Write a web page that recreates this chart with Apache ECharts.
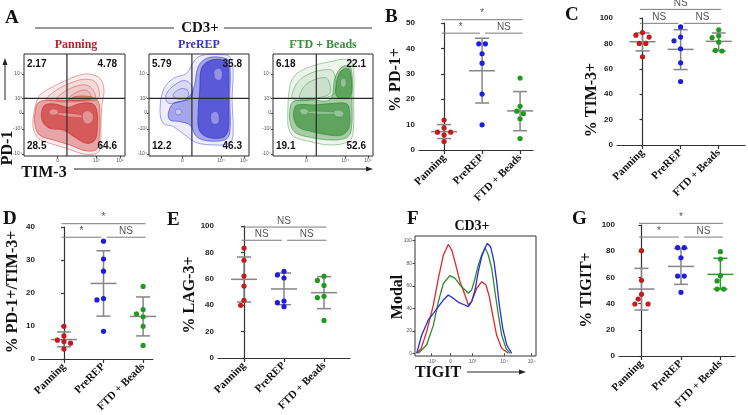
<!DOCTYPE html>
<html><head><meta charset="utf-8">
<script src="https://cdn.jsdelivr.net/npm/echarts@6/dist/echarts.min.js"></script>
<style>html,body{margin:0;padding:0;background:#fff}#c{width:748px;height:415px}</style>
</head><body><div id="c"></div><script>
// ---------------- DATA ----------------
const categories = ['Panning', 'PreREP', 'FTD + Beads'];

// B: % PD-1+
const pd1Points = [[11.8, 8.7, 7.0, 7.0, 5.9, 3.3], [41.8, 41.8, 37.9, 34.2, 22.0, 9.9], [28.3, 17.2, 15.3, 14.3, 12.3, 4.5]];
const pd1Mean = [7.2, 31.2, 15.4];
const pd1Low = [4.5, 18.5, 7.6];
const pd1High = [10.0, 44.0, 23.0];
const pd1Brackets = [[0, 2, '*', 51.3], [0, 1, '*', 46.0], [1, 2, 'NS', 46.0]];

// C: % TIM-3+
const tim3Points = [[88.5, 86.5, 85.0, 80.0, 80.0, 69.4], [93.0, 85.0, 82.0, 75.8, 64.7, 50.0], [90.7, 86.0, 84.5, 81.0, 74.5, 74.0]];
const tim3Mean = [81.3, 75.3, 81.6];
const tim3Low = [74.1, 59.4, 74.1];
const tim3High = [88.2, 90.8, 88.2];
const tim3Brackets = [[0, 2, 'NS', 106.8], [0, 1, 'NS', 95.8], [1, 2, 'NS', 95.8]];

// D: % PD-1+/TIM-3+
const dpPoints = [[9.9, 7.0, 5.7, 5.3, 4.8, 3.0], [35.7, 30.3, 26.6, 18.3, 17.9, 8.4], [22.0, 15.0, 13.7, 12.8, 9.9, 4.1]];
const dpMean = [5.9, 22.9, 12.9];
const dpLow = [3.7, 13.0, 7.0];
const dpHigh = [8.2, 32.8, 18.8];
const dpBrackets = [[0, 2, '*', 41.0], [0, 1, '*', 36.9], [1, 2, 'NS', 36.9]];

// E: % LAG-3+
const lag3Points = [[83.3, 74.0, 62.1, 54.5, 43.7, 39.9], [65.7, 62.9, 60.6, 43.2, 41.9, 38.9], [62.0, 58.8, 55.0, 46.7, 45.7, 28.5]];
const lag3Mean = [59.6, 52.3, 49.5];
const lag3Low = [42.4, 40.4, 37.4];
const lag3High = [76.5, 64.4, 61.6];
const lag3Brackets = [[0, 2, 'NS', 99.2], [0, 1, 'NS', 89.2], [1, 2, 'NS', 89.2]];

// G: % TIGIT+
const tigitPoints = [[80.4, 57.8, 47.1, 43.5, 39.7, 39.7], [82.7, 82.7, 75.0, 61.0, 61.0, 48.6], [79.6, 74.0, 61.3, 57.3, 51.1, 51.1]];
const tigitMean = [51.1, 68.4, 62.3];
const tigitLow = [35.1, 54.7, 51.1];
const tigitHigh = [66.9, 82.2, 74.6];
const tigitBrackets = [[0, 2, '*', 101.3], [0, 1, '*', 90.8], [1, 2, 'NS', 90.8]];

// F: TIGIT histogram (x: display scale 0-100, y: % of max)
const histPanning = [[1.4,0],[5,4],[9.6,19],[15.2,43],[19.3,66.5],[23.4,87],[27.5,96.7],[30.3,92],[33.1,81],[37.2,63.6],[41.3,51.8],[44.1,42.9],[46.8,45.9],[51.0,57.7],[55.1,63.6],[58.7,60.7],[61.4,50.3],[64.2,34],[67.5,16],[71.6,4.4],[77.1,0]];
const histFTD = [[2.8,0],[9.6,7.4],[15.2,25],[19.3,45.9],[23.4,62],[28.9,69],[33.1,66.6],[37.2,60.7],[41.3,56.2],[44.1,53.3],[46.8,56.2],[49.6,66.6],[52.3,78.4],[55.1,87.3],[57.9,93.8],[60.6,87.3],[63.4,75.4],[66.1,54.7],[68.9,34],[71.6,16.3],[75.2,4.4],[78.5,0]];
const histPreREP = [[1.4,0],[5.5,16],[11.0,29.6],[15.2,35.5],[19.3,41.4],[23.4,47.3],[27.5,51.8],[31.7,48.8],[35.8,45.3],[41.3,42.9],[44.1,41.4],[46.8,45.9],[49.6,56.2],[52.3,72.5],[55.1,85.8],[57.9,93.8],[59.8,97.6],[62.5,94.7],[65.3,81.4],[67.5,63.6],[69.7,42.9],[72.5,22.2],[75.8,7.4],[79.9,0]];
const histTickValues = [13.8, 29.5, 47.7, 73.6, 96.4];
const histTickLabels = ['-10³', '0', '10³', '10⁴', '10⁵'];
const histYTicks = [0, 20, 40, 60, 80, 100];

// A: flow contour plots (u: TIM-3 display 0-100, v: PD-1 display 0-100), levels outer -> core
const contourPanning = [
  [[[9.2,38.6],[11.9,51.6],[15.8,59.8],[25.7,66.3],[38.9,72.9],[52.1,78.4],[63.7,80.4],[75.2,76.1],[79.2,64.7],[76.9,48.4],[76.2,25.5],[75.2,5.9],[70.3,2.0],[58.7,2.0],[42.2,7.5],[25.7,12.4],[14.2,17.3],[9.2,27.1]],
   [[22.4,54.9],[32.3,64.7],[45.5,71.2],[58.7,75.2],[70.3,72.9],[74.6,61.4],[71.9,54.9]],
   [[32,55.5],[40,63],[52,68.5],[62,69.5],[68.5,64.5],[70,56.5]],
   [[44,55.5],[52,62.5],[61,64.5],[66,60],[65,55.5]]],
  [[[10.9,41.8],[14.2,52.3],[25.7,54.9],[42.2,54.2],[50.5,58.2],[65.3,58.2],[73.6,53.3],[75.2,38.6],[74.6,19.0],[71.9,6.5],[60.4,5.2],[45.5,10.8],[29.0,15.7],[15.2,20.6],[10.9,30.4]]],
  [[[17.5,43.5],[20.8,50.0],[30.7,51.0],[43.9,47.7],[53.8,51.0],[67.0,51.6],[71.9,45.1],[72.6,28.8],[70.3,15.7],[62.0,12.4],[50.5,18.3],[38.9,25.5],[25.7,27.1],[18.5,33.7]]],
  [[[25.1,43.9],[28.4,46.2],[33.0,44.8],[34.0,41.5],[29.0,40.2],[25.7,41.2]],
   [[58.1,41.8],[62.7,44.4],[68.0,41.2],[68.0,34.6],[62.7,31.4],[58.7,34.6]],
   [[34.0,42.5],[56.8,40.2],[56.8,37.6],[34.0,40.2]]]
];
const contourPreREP = [
  [[[11.0,43.5],[14.3,64.7],[24.3,76.1],[37.5,81.0],[45.8,94.1],[54.2,99.0],[70.8,99.5],[80.7,97.4],[84.1,84.3],[83.1,54.9],[84.1,22.2],[80.7,12.4],[64.1,10.8],[47.5,13.1],[35.9,20.6],[24.3,28.8],[14.3,32.0]],
   [[17,60],[26,70],[36,74],[43,68],[42,57],[30,53],[19,52]],
   [[24,60],[32,66],[39,64],[38,57],[28,56]]],
  [[[19.3,41.8],[24.3,51.6],[35.9,54.9],[44.2,64.7],[49.2,87.6],[57.5,95.8],[72.4,96.7],[80.1,92.5],[80.7,54.9],[80.7,22.2],[75.7,15.7],[57.5,15.0],[47.5,19.0],[40.9,30.4],[30.9,33.7],[20.9,35.3]]],
  [[[50.8,64.7],[52.5,85.9],[60.8,93.5],[74.1,94.1],[79.1,89.2],[79.4,54.9],[79.1,25.5],[74.1,18.3],[59.1,18.3],[50.2,25.5],[49.2,45.1]]],
  [[[65.8,84.3],[70.8,85.9],[73.4,81.0],[71.4,74.5],[66.8,75.2],[65.1,79.4]],
   [[62.5,41.8],[67.4,43.5],[70.1,38.6],[69.1,32.0],[64.1,31.4],[61.8,35.9]],
   [[26.9,45.1],[30.9,45.8],[32.6,42.5],[29.2,40.2],[26.6,41.8]]]
];
const contourFTD = [
  [[[14.7,38.6],[16.7,68.0],[22.3,79.4],[37.3,87.6],[57.3,92.5],[74.0,94.8],[80.0,89.2],[80.7,54.9],[80.0,22.2],[75.7,14.1],[57.3,10.8],[37.3,14.1],[20.7,19.0],[15.7,27.1]],
   [[20,56],[23,70],[33,79],[48,84],[60,83],[62,62],[45,56]],
   [[27,56],[31,68],[42,75],[54,76],[57,62],[45,57]]],
  [[[16.7,43.5],[20.0,53.3],[37.3,54.9],[57.3,55.6],[62.3,77.8],[70.7,88.2],[78.0,85.9],[79.0,54.9],[78.0,23.9],[72.3,17.3],[57.3,15.7],[37.3,18.3],[22.3,22.9],[17.3,32.0]]],
  [[[20.7,43.5],[24.0,50.0],[40.7,50.0],[60.7,51.6],[74.0,51.0],[76.7,41.8],[75.7,27.1],[69.0,20.6],[55.7,20.6],[39.0,23.9],[25.7,28.1],[21.3,35.3]],
   [[64,74.5],[69,84.3],[76.7,84.3],[77.3,58.2],[64,58.2]]],
  [[[26.7,45.1],[31.3,46.4],[35.7,44.4],[34.0,41.2],[29.0,40.8]],
   [[60.7,43.5],[65.7,45.1],[70.7,42.5],[69.0,38.6],[62.3,39.2]],
   [[68.0,74.5],[71.3,76.1],[73.3,71.2],[70.7,67.3],[68.0,69.6]],
   [[35.7,43.8],[60.7,43.1],[60.7,41.2],[35.7,41.8]]]
];
const quadrantPanning = ['2.17', '4.78', '28.5', '64.6'];
const quadrantPreREP = ['5.79', '35.8', '12.2', '46.3'];
const quadrantFTD = ['6.18', '22.1', '19.1', '52.6'];
const gateTIM3 = [42.5, 42.9, 43.3];
const gatePD1 = 56.5;
const flowYTicks = [80.4, 56.2, 42.2, 26.5, 2];
const flowYLabels = ['10⁴', '10³', '0', '-10³', '-10⁴'];
const flowXTicks = [33.4, 72, 95];
const flowXLabels = ['0', '10⁴', '10⁵'];

// ---------------- STYLE ----------------
const pointColors = ['#c41c1c', '#1c1ce4', '#1f9a1f'];
const SERIF = 'Liberation Serif, Times New Roman, serif';
const SANS = 'Liberation Sans, Arial, sans-serif';
const AXIS_COLOR = '#333';
const BAR_GREY = '#858585';

const grids = [], xAxes = [], yAxes = [], series = [];

function swarm(pts, d, minDist) {
  const order = pts.map((p, i) => i).sort((a, b) => pts[a].y - pts[b].y);
  const rows = [];
  order.forEach(i => {
    const last = rows[rows.length - 1];
    if (last && Math.abs(pts[i].y - pts[last[0]].y) < 1.2) last.push(i); else rows.push([i]);
  });
  const placed = [], off = new Array(pts.length).fill(0);
  rows.forEach(row => {
    const n = row.length;
    const cands = n === 1 ? [[0], [-d / 2], [d / 2], [-d], [d], [-1.5 * d], [1.5 * d]]
      : [1, 2, 3].map(k => row.map((_, j) => (j - (n - 1) / 2) * d * k));
    for (let c = 0; c < cands.length; c++) {
      const cand = cands[c];
      const ok = row.every((idx, j) => placed.every(p => Math.hypot(p.x - (pts[idx].x + cand[j]), p.y - pts[idx].y) >= minDist));
      if (ok || c === cands.length - 1) {
        row.forEach((idx, j) => { off[idx] = cand[j]; placed.push({ x: pts[idx].x + cand[j], y: pts[idx].y }); });
        break;
      }
    }
  });
  return off;
}

function scatterPanel(cfg) {
  const k = grids.length;
  grids.push({ left: cfg.left, top: cfg.top, width: cfg.width, height: cfg.height, outerBoundsMode: 'none', containLabel: false });
  xAxes.push({
    gridIndex: k, type: 'value', min: cfg.xmin, max: cfg.xmax,
    axisLine: { show: true, onZero: false, lineStyle: { color: AXIS_COLOR, width: 1.2 } },
    axisTick: { show: true, customValues: [0, 1, 2], length: 4, lineStyle: { color: AXIS_COLOR, width: 1.2 } },
    axisLabel: { customValues: [0, 1, 2], rotate: 45, margin: 6, formatter: v => categories[Math.round(v)],
      fontFamily: SERIF, fontWeight: 'bold', fontSize: 11, color: '#111' },
    splitLine: { show: false }
  });
  yAxes.push({
    gridIndex: k, type: 'value', min: 0, max: cfg.ymax, interval: cfg.interval,
    axisLine: { show: true, lineStyle: { color: AXIS_COLOR, width: 1.2 } },
    axisTick: { show: true, length: 3, lineStyle: { color: AXIS_COLOR, width: 1.2 } },
    axisLabel: { fontFamily: SANS, fontWeight: 'bold', fontSize: 8, color: '#222', margin: 4 },
    splitLine: { show: false }
  });
  const barColors = cfg.barColors || [BAR_GREY, BAR_GREY, BAR_GREY];
  series.push({
    type: 'custom', xAxisIndex: k, yAxisIndex: k, clip: false, z: 3,
    data: cfg.mean.map((m, i) => [i, m, cfg.low[i], cfg.high[i]]),
    renderItem: (params, api) => {
      const i = api.value(0);
      const pm = api.coord([i, api.value(1)]), pl = api.coord([i, api.value(2)]), ph = api.coord([i, api.value(3)]);
      const st = { stroke: barColors[i], lineWidth: 1.5 };
      return { type: 'group', children: [
        { type: 'line', shape: { x1: pm[0] - 13, y1: pm[1], x2: pm[0] + 13, y2: pm[1] }, style: st },
        { type: 'line', shape: { x1: pl[0], y1: pl[1], x2: ph[0], y2: ph[1] }, style: st },
        { type: 'line', shape: { x1: pl[0] - 7, y1: pl[1], x2: pl[0] + 7, y2: pl[1] }, style: st },
        { type: 'line', shape: { x1: ph[0] - 7, y1: ph[1], x2: ph[0] + 7, y2: ph[1] }, style: st }
      ] };
    }
  });
  series.push({
    type: 'custom', xAxisIndex: k, yAxisIndex: k, clip: false, z: 4,
    data: cfg.points.map((vals, i) => [i, vals[0]]),
    renderItem: (params, api) => {
      const i = api.value(0);
      const pts = cfg.points[i].map(v => { const p = api.coord([i, v]); return { x: p[0], y: p[1] }; });
      const off = swarm(pts, 6.6, 5.6);
      return { type: 'group', children: pts.map((p, j) => ({
        type: 'circle', shape: { cx: p.x + off[j], cy: p.y, r: 2.6 }, style: { fill: pointColors[i] }
      })) };
    }
  });
  series.push({
    type: 'custom', xAxisIndex: k, yAxisIndex: k, clip: false, z: 2,
    data: cfg.brackets.map(b => [b[0], b[1], b[3]]),
    renderItem: (params, api) => {
      const b = cfg.brackets[params.dataIndex];
      const a = api.coord([api.value(0), api.value(2)]), c = api.coord([api.value(1), api.value(2)]);
      const x1 = a[0] + (b[0] === 0 ? -2.5 : 3), x2 = c[0] + (b[1] === 2 ? 2.5 : -2.2);
      return { type: 'group', children: [
        { type: 'line', shape: { x1, y1: a[1], x2, y2: a[1] }, style: { stroke: '#7a7a7a', lineWidth: 1 } },
        { type: 'text', x: (x1 + x2) / 2, y: a[1] - 1,
          style: { text: b[2], font: '10px ' + SANS, fill: '#555', align: 'center', verticalAlign: 'bottom', textAlign: 'center', textVerticalAlign: 'bottom' } }
      ] };
    }
  });
}

scatterPanel({ left: 419, top: 23, width: 114, height: 127, xmin: -0.66, xmax: 2.34, ymax: 50, interval: 10,
  points: pd1Points, mean: pd1Mean, low: pd1Low, high: pd1High, brackets: pd1Brackets });
scatterPanel({ left: 617, top: 18, width: 128, height: 127, xmin: -0.67, xmax: 2.69, ymax: 100, interval: 20,
  points: tim3Points, mean: tim3Mean, low: tim3Low, high: tim3High, brackets: tim3Brackets });
scatterPanel({ left: 39, top: 227, width: 114, height: 132, xmin: -0.63, xmax: 2.25, ymax: 40, interval: 10,
  points: dpPoints, mean: dpMean, low: dpLow, high: dpHigh, brackets: dpBrackets });
scatterPanel({ left: 218, top: 226, width: 132, height: 132, xmin: -0.65, xmax: 2.65, ymax: 100, interval: 20,
  points: lag3Points, mean: lag3Mean, low: lag3Low, high: lag3High, brackets: lag3Brackets });
scatterPanel({ left: 619, top: 225, width: 116, height: 131, xmin: -0.57, xmax: 2.37, ymax: 100, interval: 20,
  points: tigitPoints, mean: tigitMean, low: tigitLow, high: tigitHigh, brackets: tigitBrackets,
  barColors: [BAR_GREY, BAR_GREY, '#2f9a2f'] });

// ---- F histogram ----
(function () {
  const k = grids.length;
  grids.push({ left: 415, top: 236, width: 121, height: 120, show: true, borderColor: '#333', borderWidth: 1, outerBoundsMode: 'none' });
  const tiny = { fontFamily: SANS, fontSize: 5, color: '#555', margin: 3 };
  xAxes.push({ gridIndex: k, type: 'value', min: 0, max: 100,
    axisLine: { show: false }, splitLine: { show: false },
    axisTick: { show: true, customValues: histTickValues, length: 2.5, lineStyle: { color: '#444' } },
    axisLabel: Object.assign({ customValues: histTickValues, formatter: v => histTickLabels[histTickValues.indexOf(v)] }, tiny) });
  yAxes.push({ gridIndex: k, type: 'value', min: -2.4, max: 104.2,
    axisLine: { show: false }, splitLine: { show: false },
    axisTick: { show: true, customValues: histYTicks, length: 2.5, lineStyle: { color: '#444' } },
    axisLabel: Object.assign({ customValues: histYTicks }, tiny) });
  [[histPanning, '#e02828'], [histFTD, '#2f8a2f'], [histPreREP, '#2a2ae0']].forEach(([d, col]) => {
    series.push({ type: 'line', xAxisIndex: k, yAxisIndex: k, data: d, showSymbol: false, symbol: 'none',
      lineStyle: { color: col, width: 1.3 }, itemStyle: { color: col }, z: 3, silent: true });
  });
})();

// ---- A contour plots ----
function flowPanel(left, width, contours, rgb, gateX) {
  const k = grids.length;
  grids.push({ left, top: 54, width, height: 102, show: true, borderColor: '#2a2a2a', borderWidth: 1, outerBoundsMode: 'none' });
  const tiny = { fontFamily: SANS, fontSize: 5, color: '#555', margin: 2 };
  xAxes.push({ gridIndex: k, type: 'value', min: 0, max: 100, axisLine: { show: false }, splitLine: { show: false },
    axisTick: { show: true, customValues: flowXTicks, length: 2, lineStyle: { color: '#444' } },
    axisLabel: Object.assign({ customValues: flowXTicks, formatter: v => flowXLabels[flowXTicks.indexOf(v)] }, tiny) });
  yAxes.push({ gridIndex: k, type: 'value', min: 0, max: 100, axisLine: { show: false }, splitLine: { show: false },
    axisTick: { show: true, customValues: flowYTicks, length: 2, lineStyle: { color: '#444' } },
    axisLabel: Object.assign({ customValues: flowYTicks, formatter: v => flowYLabels[flowYTicks.indexOf(v)] }, tiny) });
  const items = [];
  contours.forEach((lvl, li) => lvl.forEach((poly, pi) => items.push([li, pi])));
  const fills = ['rgba(' + rgb + ',0.09)', 'rgba(' + rgb + ',0.36)', 'rgba(' + rgb + ',0.6)', 'rgba(255,255,255,0.35)'];
  const strokes = ['rgba(' + rgb + ',0.6)', 'rgba(' + rgb + ',0.75)', 'rgba(' + rgb + ',0.9)', 'rgba(' + rgb + ',0.5)'];
  series.push({ type: 'custom', xAxisIndex: k, yAxisIndex: k, silent: true, z: 2,
    data: items,
    renderItem: (params, api) => {
      const it = items[params.dataIndex];
      const poly = contours[it[0]][it[1]];
      return { type: 'polygon', shape: { points: poly.map(p => api.coord(p)), smooth: 0.35 },
        style: { fill: fills[it[0]], stroke: strokes[it[0]], lineWidth: 0.7 } };
    }
  });
  series.push({ type: 'custom', xAxisIndex: k, yAxisIndex: k, silent: true, z: 4,
    data: [[gateX, gatePD1]],
    renderItem: (params, api) => {
      const g = api.coord([api.value(0), api.value(1)]);
      const lo = api.coord([0, 0]), hi = api.coord([100, 100]);
      const st = { stroke: '#2a2a2a', lineWidth: 1.2 };
      return { type: 'group', children: [
        { type: 'line', shape: { x1: g[0], y1: hi[1], x2: g[0], y2: lo[1] }, style: st },
        { type: 'line', shape: { x1: lo[0], y1: g[1], x2: hi[0], y2: g[1] }, style: st }
      ] };
    }
  });
}
flowPanel(24, 101, contourPanning, '200,40,40', gateTIM3[0]);
flowPanel(149, 100, contourPreREP, '40,40,205', gateTIM3[1]);
flowPanel(273, 100, contourFTD, '45,135,45', gateTIM3[2]);

// ---------------- TEXT / ANNOTATIONS ----------------
function txt(text, x, y, font, fill, align, rot) {
  return { type: 'text', x, y, rotation: rot || 0, z: 10,
    style: { text, x: 0, y: 0, font, fill: fill || '#111', align: align || 'center', verticalAlign: 'middle',
      textAlign: align || 'center', textVerticalAlign: 'middle' } };
}
function line(x1, y1, x2, y2, col, w) {
  return { type: 'line', z: 10, shape: { x1, y1, x2, y2 }, style: { stroke: col || '#222', lineWidth: w || 1 } };
}
const V = Math.PI / 2;
const letterFont = 'bold 19px ' + SERIF;
const titleFont = 'bold 16px ' + SERIF;
const qFont = 'bold 10px ' + SANS;
const graphics = [
  txt('A', 5, 18, letterFont, '#111', 'left'),
  txt('B', 385, 17, letterFont, '#111', 'left'),
  txt('C', 565, 15, letterFont, '#111', 'left'),
  txt('D', 3, 219, letterFont, '#111', 'left'),
  txt('E', 167, 220, letterFont, '#111', 'left'),
  txt('F', 407, 219, letterFont, '#111', 'left'),
  txt('G', 572, 219, letterFont, '#111', 'left'),
  txt('CD3+', 200, 28, 'bold 15px ' + SERIF),
  line(35, 28, 174, 28, '#333', 1), line(224, 28, 372, 28, '#333', 1),
  txt('Panning', 76, 45, 'bold 12px ' + SERIF, '#b8262b'),
  txt('PreREP', 199, 45, 'bold 12px ' + SERIF, '#3535c4'),
  txt('FTD + Beads', 323, 45, 'bold 12px ' + SERIF, '#3b8d3b'),
  txt('PD-1', 8, 148, titleFont, '#111', 'center', V),
  line(5, 100, 5, 64, '#222', 1),
  { type: 'polygon', z: 10, shape: { points: [[2.5, 65], [7.5, 65], [5, 58]] }, style: { fill: '#222' } },
  txt('TIM-3', 44, 173, titleFont),
  line(74, 169, 368, 169, '#222', 1),
  { type: 'polygon', z: 10, shape: { points: [[366, 166.5], [366, 171.5], [373, 169]] }, style: { fill: '#222' } },
  txt('% PD-1+', 396, 80, titleFont, '#111', 'center', V),
  txt('% TIM-3+', 592, 100, titleFont, '#111', 'center', V),
  txt('% PD-1+/TIM-3+', 13, 292, titleFont, '#111', 'center', V),
  txt('% LAG-3+', 190, 295, titleFont, '#111', 'center', V),
  txt('% TIGIT+', 587, 290, titleFont, '#111', 'center', V),
  txt('CD3+', 472, 226, 'bold 14px ' + SERIF),
  txt('Modal', 398, 297, titleFont, '#111', 'center', V),
  txt('TIGIT', 438, 373, titleFont),
  line(467, 372, 520, 372, '#222', 1),
  { type: 'polygon', z: 10, shape: { points: [[519, 369.5], [519, 374.5], [526, 372]] }, style: { fill: '#222' } }
];
[[quadrantPanning, 27, 117], [quadrantPreREP, 152, 242], [quadrantFTD, 276, 366]].forEach(([q, xl, xr]) => {
  graphics.push(txt(q[0], xl, 64, qFont, '#111', 'left'));
  graphics.push(txt(q[1], xr, 64, qFont, '#111', 'right'));
  graphics.push(txt(q[2], xl, 146, qFont, '#111', 'left'));
  graphics.push(txt(q[3], xr, 146, qFont, '#111', 'right'));
});

const chart = echarts.init(document.getElementById('c'), null, { renderer: 'canvas' });
chart.setOption({
  animation: false,
  backgroundColor: '#fff',
  grid: grids, xAxis: xAxes, yAxis: yAxes, series,
  graphic: { elements: graphics }
});
</script></body></html>
